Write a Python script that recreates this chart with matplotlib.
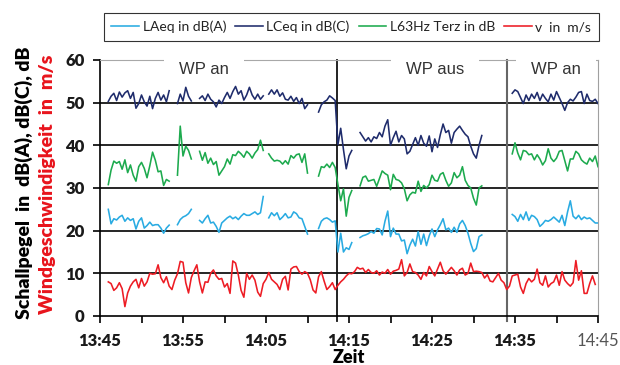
import numpy as np
import matplotlib
matplotlib.use("Agg")
import matplotlib.pyplot as plt
from matplotlib.ticker import MultipleLocator

# ---------------- data ----------------
# samples every 20 s, first sample at 13:46:00 (minutes after 13:45)
start_min = 1.0
step_min = 1 / 3
N = None

laeq = [25.0, 21.6, 22.8, 22.5, 23.2, 23.6, 22.2, 23.0, 22.4, 22.8, 20.4, 22.2, 23.0, 20.6, 21.2, 22.0, 21.2, 21.4, 21.4, 20.6, 19.4, 20.6, 21.3,
        N, N,
        21.4, 22.6, 23.2, 23.5, 24.0, 25.0,
        N, N,
        22.4, 21.8, 22.8, 23.6, 21.8, 22.0, 21.0, 19.6, 21.8, 22.4, 23.0, 23.4, 22.8, 23.2, 22.6, 23.4, 24.0, 23.6, 23.6, 24.0, 24.4, 23.8, 24.2, 28.0,
        N,
        23.0, 24.2, 23.5, 24.2, 22.6, 23.2, 24.0, 23.0, 23.2, 24.4, 24.0, 23.0, 22.8, 21.0, 19.2,
        N, N, N,
        20.5, 22.2, 22.8, 23.0, 22.6, 22.0, 22.3, 15.0, 19.4, 15.0, 16.0, 15.6, 17.2,
        N, N,
        18.4, 18.8, 19.0, 19.3, 19.8, 19.4, 20.5, 20.4, 19.0, 22.2, 24.6, 18.6, 20.6, 19.2, 19.2, 17.6, 17.8, 14.6, 16.6, 18.0, 16.4, 19.8, 16.8, 19.2, 16.5, 18.8, 20.4, 18.6,
        20.2, 21.4, 22.8, 20.2, 20.6, 19.6, 20.8, 19.6, 21.6, 22.4, 21.2, 19.4, 17.0, 15.1, 15.8, 18.6, 19.0,
        N, N, N, N, N, N, N, N, N, N,
        23.8, 23.3, 22.2, 23.8, 22.6, 24.4, 22.4, 23.6, 23.3, 22.6, 21.0, 21.6, 22.4, 22.2, 22.6, 23.2, 22.6, 22.0, 23.6, 21.2, 24.4, 27.0, 23.4, 22.8, 23.6, 22.6, 23.2, 22.8, 23.0, 22.4, 21.8, 21.8]

lceq = [50.3, 51.5, 52.2, 50.5, 52.5, 51.3, 52.3, 52.8, 51.0, 52.4, 48.7, 49.8, 51.8, 50.2, 49.2, 51.5, 48.6, 51.0, 52.4, 50.6, 51.8, 50.2, 52.8,
        N, N,
        49.8, 52.0, 50.4, 53.6, 51.5, 50.4,
        N, N,
        51.0, 51.6, 50.5, 52.0, 50.8, 50.2, 49.0, 50.6, 49.8, 51.2, 52.4, 51.0, 52.6, 53.8, 52.0, 52.8, 50.6, 51.8, 53.6, 51.8, 50.8, 52.0, 50.8, 51.6,
        N,
        52.0, 53.0, 52.0, 53.0, 51.5, 52.3, 50.8, 50.6, 51.5, 50.3, 51.2, 49.8, 51.0, 48.6, 49.5,
        N, N, N,
        47.8, 49.5, 50.2, 50.6, 51.6, 51.1, 50.5, 40.2, 44.0, 39.0, 34.5, 37.5, 38.8,
        N, N,
        43.0, 42.0, 41.0, 41.8, 40.8, 42.0, 41.6, 43.0, 42.0, 44.5, 46.0, 40.0, 41.8, 43.3, 40.8, 42.3, 41.5, 38.0, 38.6, 40.2, 41.8, 40.0, 42.3, 40.5, 39.8, 42.2, 38.5, 41.5,
        39.5, 42.5, 45.0, 43.0, 43.5, 40.5, 43.0, 43.8, 44.5, 43.5, 42.6, 42.0, 39.8, 38.0, 37.0, 40.0, 42.3,
        N, N, N, N, N, N, N, N, N, N,
        52.2, 53.0, 52.6, 51.2, 49.8, 51.8, 50.5, 52.0, 51.0, 52.4, 50.5, 52.0, 51.0, 50.2, 52.0, 50.6, 52.6, 51.2, 49.8, 48.2, 50.0, 50.8, 50.4, 51.3, 52.4, 52.6, 49.8, 52.0, 50.5, 50.3, 50.8, 49.8]

l63 = [30.8, 34.2, 36.3, 35.8, 36.2, 34.4, 36.6, 33.6, 35.4, 33.0, 31.6, 35.0, 36.0, 34.6, 32.4, 35.2, 38.4, 36.5, 33.8, 34.0, 30.6, 32.0, 31.6,
       N, N,
       33.0, 44.5, 37.5, 39.8, 38.8, 36.8,
       N, N,
       38.6, 36.5, 38.3, 35.8, 37.0, 35.5, 36.2, 33.0, 34.0, 35.0, 36.8, 35.6, 37.8, 37.6, 38.6, 38.0, 37.2, 38.6, 38.0, 37.0, 38.2, 39.0, 41.2, 38.8,
       N,
       38.0, 37.0, 36.3, 36.5, 36.3, 35.6, 36.4, 35.6, 37.6, 37.0, 37.8, 38.0, 36.0, 38.0, 33.5,
       N, N, N,
       32.8, 35.0, 34.8, 35.6, 34.8, 36.0, 34.8, 30.8, 27.0, 29.8, 23.4, 27.8, 29.4,
       N, N,
       30.5, 32.5, 32.8, 31.6, 31.8, 32.0, 30.4, 32.2, 34.0, 33.4, 33.0, 29.6, 33.2, 32.0, 31.8, 31.2, 29.8, 27.0, 28.4, 29.0, 28.8, 31.6, 29.2, 30.6, 30.0, 30.8, 33.0, 31.8,
       31.6, 33.2, 33.6, 31.8, 30.4, 31.2, 33.6, 32.4, 33.0, 35.0, 31.8, 30.6, 30.0, 27.6, 26.0, 30.0, 30.5,
       N, N, N, N, N, N, N, N, N, N,
       38.0, 40.6, 38.2, 36.6, 38.8, 38.6, 37.8, 38.0, 36.6, 37.8, 36.8, 35.4, 36.4, 39.2, 37.0, 36.2, 37.0, 38.6, 38.8, 36.4, 34.0, 36.8, 36.8, 38.6, 38.0, 36.6, 36.0, 35.6, 37.0, 36.2, 37.5, 35.0]

wind = [8.0, 7.6, 6.0, 6.6, 7.8, 6.4, 2.2, 5.4, 7.0, 8.0,
        8.6, 6.6, 8.8, 7.0, 8.0, 10.0, 9.8, 9.9, 12.0, 9.0,
        7.8, 9.2, 7.0, 6.2, 8.4, 9.9, 12.8, 12.6, 7.8, 5.4,
        9.0, 10.6, 12.0, 8.0, 5.4, 8.0, 7.9, 10.0, 10.8, 9.4,
        8.6, 8.8, 6.8, 7.6, 5.3, 12.9, 12.4, 9.6, 6.0, 4.4,
        10.0, 8.6, 9.6, 8.4, 5.6, 4.6, 7.6, 8.6,
        10.2, 8.6, 8.0, 7.4, 6.2, 8.6, 9.3, 6.1, 11.0, 11.5,
        11.6, 10.4, 9.8, 10.4, 10.0, 8.5, 6.1, 5.4, 9.2, 10.4,
        8.2, 6.2, 6.9, 7.8, 6.2, 7.2, 8.0, 8.6, 9.4, 10.0,
        9.9, 10.4, 11.4, 11.0, 11.2, 10.2, 10.9, 10.2, 10.0, 10.6,
        9.6, 10.3, 10.0, 10.9, 9.8, 10.5, 10.7, 11.0, 13.2, 9.4,
        10.2, 12.2, 10.4, 10.2, 9.6, 8.6, 10.2, 9.4, 11.6, 10.4,
        9.4, 11.0, 12.6, 10.6, 9.8, 10.6, 11.4, 10.6, 9.6, 10.8,
        11.2, 9.6, 10.0, 12.4, 10.4, 10.5, 10.4, 10.2, 8.9, 9.7,
        8.2, 8.0, 9.0, 10.0, 8.4, 7.8, 6.2, 7.0, 9.4, 9.6,
        9.8, 6.8, 5.3, 7.6, 8.8, 8.0, 8.6, 11.0, 7.8, 7.2,
        9.4, 6.8, 7.6, 8.0, 9.6, 7.2, 10.4, 8.4, 7.6, 7.0,
        7.8, 13.0, 8.4, 10.6, 5.3, 5.3, 7.6, 9.4, 7.4]

series_names = ["LAeq in dB(A)", "LCeq in dB(C)", "L63Hz Terz in dB", "v  in  m/s"]
series_colors = ["#29ABE2", "#1F2C6C", "#1DAA4E", "#ED1C24"]

tick_pos = [0, 10, 20, 30, 40, 50, 60]
tick_labels = ["13:45", "13:55", "14:05", "14:15", "14:25", "14:35", "14:45"]
switch_times = [28.6, 49.0]           # WP aus / WP an switch (minutes after 13:45)
phase_labels = ["WP an", "WP aus", "WP an"]
phase_label_x = [12.5, 40.4, 54.9]

# ---------------- figure ----------------
W, H = 620, 365
fig = plt.figure(figsize=(W / 100, H / 100), dpi=100)
ax = fig.add_axes([100 / W, 1 - 316 / H, 498 / W, 256 / H])

font_b = dict(family="Lato", weight="heavy")

for vals, name, col in zip([laeq, lceq, l63, wind], series_names, series_colors):
    y = np.array(vals, dtype=float)
    t = start_min + np.arange(len(y)) * step_min
    ax.plot(t, y, color=col, lw=1.15, label=name, zorder=4)

ax.set_xlim(0, 60)
ax.set_ylim(0, 60)

# horizontal grid lines
for v in [10, 20, 30, 40, 50]:
    ax.axhline(v, color="black", lw=1.2, zorder=2)

# switch lines
ax.axvline(switch_times[0], ymin=-0.02, ymax=1, color="#111111", lw=1.3, zorder=2, clip_on=False)
ax.axvline(switch_times[1], ymin=-0.02, ymax=1, color="#666666", lw=1.5, zorder=2, clip_on=False)

# spines
ax.spines["left"].set_color("black")
ax.spines["bottom"].set_color("black")
ax.spines["left"].set_linewidth(1.2)
ax.spines["bottom"].set_linewidth(1.2)
ax.spines["top"].set_color("#a8a8a8")
ax.spines["right"].set_color("#a0a0a0")

# ticks
ax.set_xticks(tick_pos)
ax.set_xticklabels(tick_labels)
ax.xaxis.set_minor_locator(MultipleLocator(5))
ax.yaxis.set_major_locator(MultipleLocator(10))
ax.tick_params(axis="both", which="both", direction="out", length=5, width=1.2, color="black")
ax.tick_params(axis="x", which="major", pad=7)
ax.tick_params(axis="y", which="major", pad=6)
for lab in ax.get_xticklabels() + ax.get_yticklabels():
    lab.set_fontfamily("Lato")
    lab.set_fontweight("heavy")
    lab.set_fontsize(12)
    lab.set_color("#1a1a1a")
last = ax.get_xticklabels()[-1]
last.set_fontweight("normal")
last.set_color("#555555")

ax.set_xlabel("Zeit", fontsize=13, labelpad=0, **font_b)

# phase labels with white box hiding the top border
for xl, txt in zip(phase_label_x, phase_labels):
    ax.text(xl, 57.8, txt, ha="center", va="center", fontsize=12, family="Liberation Sans",
            color="#333333", zorder=3,
            bbox=dict(boxstyle="square,pad=0.9", fc="white", ec="none"))

# y labels
fig.text(24 / W, 1 - 183 / H, "Schallpegel  in  dB(A), dB(C), dB", rotation=90,
         ha="center", va="center", fontsize=14, color="black", **font_b)
fig.text(48 / W, 1 - 184 / H, "Windgeschwindigkeit  in  m/s", rotation=90,
         ha="center", va="center", fontsize=14, color="#E8141C", **font_b)

# legend
leg = fig.legend(loc="upper right", bbox_to_anchor=(599 / W, 1 - 13 / H), ncol=4,
                 frameon=True, fancybox=False, handlelength=2.0, handletextpad=0.25,
                 columnspacing=0.65, borderpad=0.55, borderaxespad=0.0,
                 prop=dict(family="Lato", size=10))
leg.get_frame().set_edgecolor("black")
leg.get_frame().set_linewidth(0.8)
for txt in leg.get_texts():
    txt.set_color("#222222")

fig.savefig("out.png", dpi=100)
